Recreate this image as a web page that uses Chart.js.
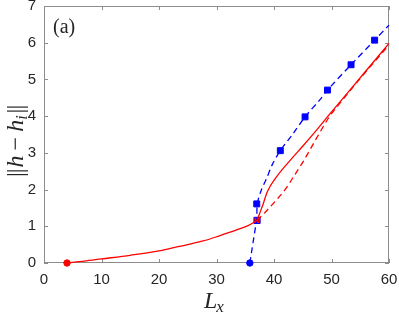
<!DOCTYPE html>
<html>
<head>
<meta charset="utf-8">
<script src="https://cdn.jsdelivr.net/npm/chart.js@4/dist/chart.umd.min.js"></script>
<style>
  html, body { margin: 0; padding: 0; background: #fff; }
  canvas { display: block; }
</style>
</head>
<body>
<canvas id="chart" width="399" height="313"></canvas>
<script>
// branch data
const redLowerX = [4, 7, 10, 15, 20, 22, 25, 27.7, 30.5, 33.5, 35.5, 37.05];
const redLowerY = [0, 0.05, 0.11, 0.21, 0.33, 0.40, 0.50, 0.60, 0.74, 0.90, 1.02, 1.16];

const redUpperX = [37.05, 37.5, 38.1, 38.8, 40.5, 43, 45.1, 47.4, 49.5, 51.8, 55.5, 60];
const redUpperY = [1.16, 1.35, 1.6, 1.93, 2.36, 2.83, 3.20, 3.62, 4.02, 4.45, 5.14, 5.98];

const redDashX = [37.05, 38.4, 40.2, 41.9, 43.6, 45.1, 46.1, 47.4, 49.7, 51.5, 55.5, 60];
const redDashY = [1.16, 1.37, 1.68, 1.99, 2.40, 2.77, 3.04, 3.40, 4.0, 4.36, 5.12, 5.94];

const blueX = [35.8, 36.1, 36.5, 36.8, 37.0, 37.1, 37.8, 38.7, 39.7, 41.1, 43.4, 45.4, 48.0, 49.3, 53.4, 57.5, 60];
const blueY = [0, 0.3, 0.7, 1.0, 1.16, 1.61, 1.99, 2.3, 2.68, 3.06, 3.54, 3.98, 4.45, 4.71, 5.40, 6.07, 6.48];

const blueSqX = [37.0, 41.1, 45.4, 49.3, 53.4, 57.5];
const blueSqY = [1.61, 3.06, 3.98, 4.71, 5.40, 6.07];

const blueDotX = [35.8], blueDotY = [0];
const redDotX = [4], redDotY = [0];
const redSqX = [37.05], redSqY = [1.16];

const xTicks = [0, 10, 20, 30, 40, 50, 60];
const yTicks = [0, 1, 2, 3, 4, 5, 6, 7];

const RED = '#ff0000', BLUE = '#0000ff', AXIS = '#8c8c8c';

function pts(xs, ys) {
  return xs.map((x, i) => ({ x: x, y: ys[i] }));
}

function curve(xs, ys, color, dashed, smooth) {
  const ds = {
    data: pts(xs, ys), showLine: true, borderColor: color, borderWidth: 1.3,
    borderDash: dashed ? [6, 4] : [], pointRadius: 0
  };
  if (smooth) ds.tension = smooth;
  else ds.cubicInterpolationMode = 'monotone';
  return ds;
}

function marks(xs, ys, style, r, fill, edge) {
  return {
    data: pts(xs, ys), showLine: false, pointStyle: style, pointRadius: r,
    backgroundColor: fill, borderColor: edge || fill, borderWidth: 1
  };
}

// box, inward ticks and the text labels
const decor = {
  id: 'decor',
  beforeDatasetsDraw(chart) {
    const { ctx, chartArea: a, scales: { x, y } } = chart;
    ctx.save();
    ctx.strokeStyle = AXIS;
    ctx.lineWidth = 1;
    ctx.strokeRect(a.left + 0.5, a.top + 0.5, a.right - a.left - 1, a.bottom - a.top - 1);
    ctx.beginPath();
    xTicks.forEach(v => {
      const px = Math.round(x.getPixelForValue(v)) + 0.5;
      ctx.moveTo(px, a.bottom); ctx.lineTo(px, a.bottom - 4);
      ctx.moveTo(px, a.top); ctx.lineTo(px, a.top + 4);
    });
    yTicks.forEach(v => {
      const py = Math.round(y.getPixelForValue(v)) + 0.5;
      ctx.moveTo(a.left, py); ctx.lineTo(a.left + 4, py);
      ctx.moveTo(a.right, py); ctx.lineTo(a.right - 4, py);
    });
    ctx.stroke();
    ctx.restore();
  },
  afterDraw(chart) {
    const { ctx } = chart;
    ctx.save();
    ctx.fillStyle = '#262626';
    ctx.textBaseline = 'alphabetic';

    ctx.font = '20px "Liberation Serif", "DejaVu Serif", serif';
    ctx.fillText('(a)', 53, 33);

    // x label L_x
    ctx.font = 'italic 24px "Liberation Serif", serif';
    ctx.fillText('L', 204, 308);
    const lw = ctx.measureText('L').width;
    ctx.font = 'italic 17px "Liberation Serif", serif';
    ctx.fillText('x', 204 + lw - 1, 312);

    // y label ||h - h_i||, rotated
    ctx.translate(23, 177);
    ctx.rotate(-Math.PI / 2);
    let p = 0;
    const put = (t, font, dy, gap) => {
      ctx.font = font;
      ctx.fillText(t, p, dy);
      p += ctx.measureText(t).width + (gap || 0);
    };
    const big = 'italic 24px "Liberation Serif", serif';
    const up = '24px "Liberation Serif", serif';
    put('|', up, 0, -1);
    put('|', up, 0, 1);
    put('h', big, 0, 5);
    put('\u2212', up, 0, 5);
    put('h', big, 0, 0);
    put('i', 'italic 16px "Liberation Serif", serif', 4, 2);
    put('|', up, 0, -1);
    put('|', up, 0, 0);
    ctx.restore();
  }
};

new Chart(document.getElementById('chart'), {
  type: 'scatter',
  data: {
    datasets: [
      curve(redLowerX, redLowerY, RED, false),
      curve(redUpperX, redUpperY, RED, false),
      curve(redDashX, redDashY, RED, true),
      curve(blueX, blueY, BLUE, true, 0.3),
      marks(blueSqX, blueSqY, 'rect', 4.2, BLUE),
      marks(blueDotX, blueDotY, 'circle', 3.2, BLUE),
      marks(redDotX, redDotY, 'circle', 3.2, RED),
      marks(redSqX, redSqY, 'rect', 4.4, RED, BLUE)
    ]
  },
  options: {
    responsive: false,
    animation: false,
    devicePixelRatio: 1,
    clip: false,
    layout: { padding: { top: 6, right: 10, left: 0, bottom: 0 } },
    plugins: { legend: { display: false }, tooltip: { enabled: false } },
    scales: {
      x: {
        type: 'linear', min: 0, max: 60,
        afterFit: s => { s.height = 50; s.paddingLeft = 0; s.paddingRight = 0; },
        grid: { display: false, drawTicks: false },
        border: { display: false },
        ticks: {
          stepSize: 10, padding: 8, color: '#262626', maxRotation: 0,
          font: { family: '"Liberation Sans", Arial, sans-serif', size: 15 }
        }
      },
      y: {
        type: 'linear', min: 0, max: 7,
        afterFit: s => { s.width = 44; s.paddingTop = 0; s.paddingBottom = 0; },
        grid: { display: false, drawTicks: false },
        border: { display: false },
        ticks: {
          stepSize: 1, padding: 8, color: '#262626',
          font: { family: '"Liberation Sans", Arial, sans-serif', size: 15 }
        }
      }
    }
  },
  plugins: [decor]
});
</script>
</body>
</html>
